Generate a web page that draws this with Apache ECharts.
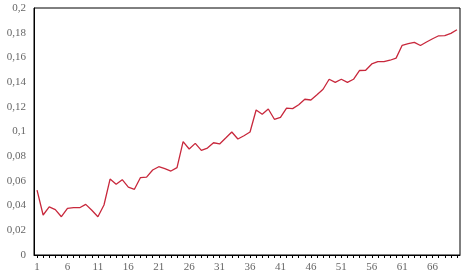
<!DOCTYPE html>
<html>
<head>
<meta charset="utf-8">
<script src="https://cdn.jsdelivr.net/npm/echarts@6/dist/echarts.min.js"></script>
<style>html,body{margin:0;padding:0;background:#fff}#c{width:467px;height:275px}</style>
</head>
<body>
<div id="c"></div>
<script>
var categories = [];
for (var i = 1; i <= 70; i++) categories.push(String(i));
var values = [
0.0526,0.0324,0.0389,0.0367,0.0310,0.0378,0.0383,0.0383,0.0410,0.0362,
0.0310,0.0405,0.0615,0.0572,0.0610,0.0550,0.0532,0.0627,0.0630,0.0688,
0.0715,0.0699,0.0680,0.0707,0.0918,0.0858,0.0904,0.0847,0.0866,0.0909,
0.0899,0.0947,0.0996,0.0939,0.0966,0.0996,0.1174,0.1139,0.1182,0.1099,
0.1115,0.1190,0.1185,0.1217,0.1261,0.1255,0.1298,0.1342,0.1423,0.1398,
0.1423,0.1398,0.1423,0.1494,0.1496,0.1547,0.1565,0.1565,0.1577,0.1594,
0.1698,0.1711,0.1722,0.1696,0.1725,0.1751,0.1775,0.1776,0.1795,0.1824
];
var yMin = 0, yMax = 0.2, yStep = 0.02;
var chart = echarts.init(document.getElementById('c'), null, {renderer: 'canvas'});
var font = '"Liberation Serif", "DejaVu Serif", serif';
chart.setOption({
  animation: false,
  grid: {left: 34, top: 8, right: 7, bottom: 20, show: true, borderColor: '#000', borderWidth: 1, backgroundColor: 'transparent'},
  xAxis: {
    type: 'category', data: categories, boundaryGap: true,
    axisLine: {lineStyle: {color: '#000', width: 1}},
    axisTick: {show: true, alignWithLabel: true, interval: 0, length: 3, lineStyle: {color: '#000'}},
    axisLabel: {interval: 4, color: '#666', fontFamily: font, fontSize: 11, margin: 7},
    splitLine: {show: false}
  },
  yAxis: {
    type: 'value', min: yMin, max: yMax, interval: yStep,
    axisLine: {show: true, lineStyle: {color: '#000', width: 1}},
    axisTick: {show: false},
    splitLine: {show: false},
    axisLabel: {color: '#666', fontFamily: font, fontSize: 11, margin: 8,
      formatter: function (v) { return String(+v.toFixed(2)).replace('.', ','); }}
  },
  series: [{
    type: 'line', data: values, symbol: 'none',
    lineStyle: {color: '#c8283c', width: 1.3}
  }]
});
</script>
</body>
</html>
